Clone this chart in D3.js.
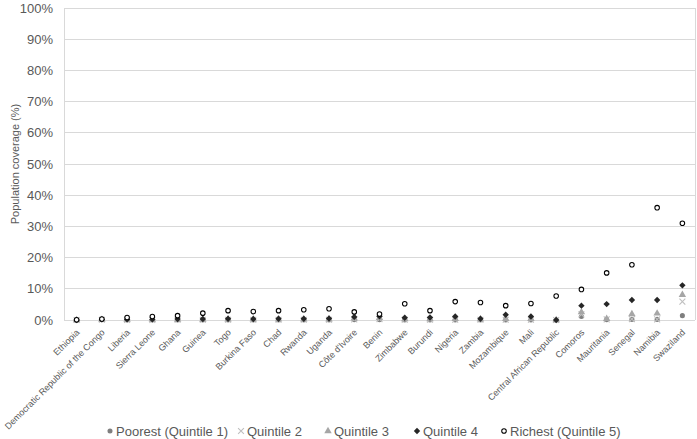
<html>
<head>
<meta charset="utf-8">
<title>Population coverage by wealth quintile</title>
<script src="https://d3js.org/d3.v7.min.js"></script>
<style>
  body { margin: 0; background: #fff; }
  text { font-family: "Liberation Sans", Arial, sans-serif; }
</style>
</head>
<body>
<svg width="697" height="439"></svg>
<script>
var countries = ["Ethiopia", "Democratic Republic of the Congo", "Liberia", "Sierra Leone", "Ghana",
  "Guinea", "Togo", "Burkina Faso", "Chad", "Rwanda", "Uganda", "Côte d'Ivoire", "Benin",
  "Zimbabwe", "Burundi", "Nigeria", "Zambia", "Mozambique", "Mali", "Central African Republic",
  "Comoros", "Mauritania", "Senegal", "Namibia", "Swaziland"];

var poorest = [0.0, 0.1, 0.0, 0.0, 0.0, 0.0, 0.0, 0.0, 0.0, 0.0, 0.0, 0.1, 0.1,
  0.0, 0.0, 0.0, 0.0, 0.0, 0.0, 0.0, 1.1, 0.1, 0.2, 0.2, 1.4];
var quintile2 = [0.0, 0.1, 0.0, 0.0, 0.1, 0.1, 0.1, 0.1, 0.1, 0.1, 0.1, 0.2, 0.3,
  0.1, 0.1, 0.1, 0.1, 0.1, 0.1, 0.0, 1.8, 0.2, 0.3, 0.2, 5.9];
var quintile3 = [0.0, 0.1, 0.1, 0.1, 0.1, 0.1, 0.2, 0.2, 0.2, 0.2, 0.2, 0.5, 0.7,
  0.3, 0.3, 0.4, 0.2, 0.4, 0.4, 0.0, 2.5, 0.4, 1.9, 2.1, 8.1];
var quintile4 = [0.0, 0.2, 0.2, 0.2, 0.3, 0.3, 0.4, 0.3, 0.4, 0.4, 0.5, 1.0, 1.2,
  0.7, 0.8, 1.1, 0.4, 1.7, 1.1, 0.0, 4.6, 5.1, 6.4, 6.4, 11.1];
var richest = [0.1, 0.3, 0.8, 1.1, 1.4, 2.2, 3.0, 2.7, 3.0, 3.3, 3.6, 2.6, 1.9,
  5.2, 3.0, 5.9, 5.6, 4.6, 5.3, 7.7, 9.8, 15.1, 17.7, 36.0, 31.0];

var yTicks = [0, 10, 20, 30, 40, 50, 60, 70, 80, 90, 100];

var series = [
  {name: "Poorest (Quintile 1)", values: poorest, symbol: d3.symbolCircle, size: 20, fill: "#7f7f7f", stroke: "none"},
  {name: "Quintile 2", values: quintile2, symbol: d3.symbolX, size: 24, fill: "none", stroke: "#bfbfbf"},
  {name: "Quintile 3", values: quintile3, symbol: d3.symbolTriangle, size: 24, fill: "#a6a6a6", stroke: "none"},
  {name: "Quintile 4", values: quintile4, symbol: d3.symbolDiamond2, size: 26, fill: "#262626", stroke: "none"},
  {name: "Richest (Quintile 5)", values: richest, symbol: d3.symbolCircle, size: 16, fill: "#fff", stroke: "#000"}
];

// legend entry positions
var legendX = [110, 241, 328, 417, 504];

var svg = d3.select("svg"),
    margin = {top: 8, right: 2, bottom: 119, left: 64},
    width = +svg.attr("width") - margin.left - margin.right,
    height = +svg.attr("height") - margin.top - margin.bottom,
    g = svg.append("g").attr("transform", `translate(${margin.left},${margin.top})`);

var x = d3.scaleBand().domain(countries).range([0, width]);
var y = d3.scaleLinear().domain([0, 100]).range([height, 0]);

// gridlines
g.append("g")
  .selectAll("line")
  .data(yTicks)
  .enter().append("line")
    .attr("x1", 0).attr("x2", width)
    .attr("y1", d => y(d)).attr("y2", d => y(d))
    .attr("stroke", "#d9d9d9").attr("stroke-width", 1)
    .attr("shape-rendering", "crispEdges");

// plot area sides
g.append("line").attr("x1", 0).attr("x2", 0).attr("y1", 0).attr("y2", height)
  .attr("stroke", "#d9d9d9").attr("shape-rendering", "crispEdges");
g.append("line").attr("x1", width).attr("x2", width).attr("y1", 0).attr("y2", height)
  .attr("stroke", "#d9d9d9").attr("shape-rendering", "crispEdges");

// y axis
var yAxis = g.append("g")
  .call(d3.axisLeft(y).tickValues(yTicks).tickFormat(d => d + "%").tickSize(0).tickPadding(11));
yAxis.select(".domain").remove();
yAxis.selectAll("text")
  .style("font-size", "13px")
  .attr("fill", "#595959");

// x axis
var xAxis = g.append("g")
  .attr("transform", `translate(0,${height})`)
  .call(d3.axisBottom(x).tickSize(0));
xAxis.select(".domain").remove();
xAxis.selectAll("text")
  .style("font-size", "9px")
  .attr("fill", "#595959")
  .attr("text-anchor", "end")
  .attr("dy", null)
  .attr("y", 0)
  .attr("transform", "translate(3.5,13) rotate(-45)");

// y title
svg.append("text")
  .attr("transform", `translate(19,${margin.top + height / 2}) rotate(-90)`)
  .attr("text-anchor", "middle")
  .style("font-size", "11px")
  .attr("fill", "#595959")
  .text("Population coverage (%)");

// points
series.forEach(function(s) {
  var sym = d3.symbol().type(s.symbol).size(s.size);
  g.append("g")
    .selectAll("path")
    .data(s.values)
    .enter().append("path")
      .attr("d", sym)
      .attr("transform", (d, i) => `translate(${x(countries[i]) + x.bandwidth() / 2},${y(d)})`)
      .attr("fill", s.fill)
      .attr("stroke", s.stroke)
      .attr("stroke-width", s.stroke === "none" ? 0 : 1.1);
});

// legend
var legend = svg.append("g").attr("transform", "translate(0,431)");
series.forEach(function(s, i) {
  var item = legend.append("g").attr("transform", `translate(${legendX[i]},0)`);
  item.append("path")
    .attr("d", d3.symbol().type(s.symbol).size(s.size)())
    .attr("fill", s.fill)
    .attr("stroke", s.stroke)
    .attr("stroke-width", s.stroke === "none" ? 0 : 1.1);
  item.append("text")
    .attr("x", 6)
    .attr("dy", "0.35em")
    .style("font-size", "13px")
    .attr("fill", "#595959")
    .text(s.name);
});
</script>
</body>
</html>
